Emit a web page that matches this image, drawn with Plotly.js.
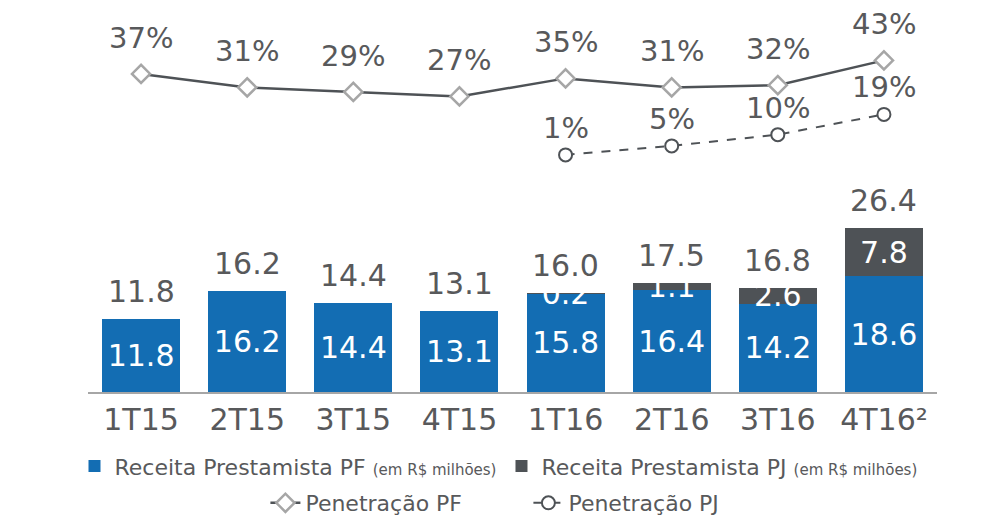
<!DOCTYPE html>
<html>
<head>
<meta charset="utf-8">
<script src="https://cdn.plot.ly/plotly-3.0.1.min.js"></script>
<style>
  body { margin: 0; background: #ffffff; }
  #chart { width: 997px; height: 518px; }
</style>
</head>
<body>
<div id="chart"></div>
<script>
var quarters = ['1T15', '2T15', '3T15', '4T15', '1T16', '2T16', '3T16', '4T16²'];
var receitaPF = [11.8, 16.2, 14.4, 13.1, 15.8, 16.4, 14.2, 18.6];
var receitaPJ = [null, null, null, null, 0.2, 1.1, 2.6, 7.8];
var receitaTotal = [11.8, 16.2, 14.4, 13.1, 16.0, 17.5, 16.8, 26.4];
var penetracaoPF = [0.37, 0.31, 0.29, 0.27, 0.35, 0.31, 0.32, 0.43];
var penetracaoPJ = [null, null, null, null, 0.01, 0.05, 0.10, 0.19];

var grey = '#58595b';
var blue = '#136db3';
var dark = '#4e5256';

var trace_pf = {
  x: quarters,
  y: receitaPF,
  name: 'Receita Prestamista PF <span style="font-size:15px">(em R$ milhões)</span>',
  type: 'bar',
  marker: {color: blue},
  texttemplate: '%{y:.1f}',
  textposition: 'inside',
  insidetextanchor: 'middle',
  constraintext: 'none',
  textfont: {color: '#ffffff', size: 30},
  legend: 'legend'
};

var trace_pj = {
  x: quarters,
  y: receitaPJ,
  name: 'Receita Prestamista PJ <span style="font-size:15px">(em R$ milhões)</span>',
  type: 'bar',
  marker: {color: dark},
  texttemplate: '%{y:.1f}',
  textposition: 'inside',
  insidetextanchor: 'middle',
  constraintext: 'none',
  textfont: {color: '#ffffff', size: 30},
  legend: 'legend'
};

var trace_pen_pf = {
  x: quarters,
  y: penetracaoPF,
  name: 'Penetração PF',
  type: 'scatter',
  mode: 'lines+markers',
  yaxis: 'y2',
  line: {color: dark, width: 2.5},
  marker: {symbol: 'diamond', size: 14, color: '#ffffff', line: {color: '#a6a6a6', width: 2.5}},
  legend: 'legend2'
};

var trace_pen_pj = {
  x: quarters,
  y: penetracaoPJ,
  name: 'Penetração PJ',
  type: 'scatter',
  mode: 'lines+markers',
  yaxis: 'y2',
  line: {color: dark, width: 2, dash: 'dash'},
  marker: {symbol: 'circle', size: 13, color: '#ffffff', line: {color: dark, width: 2}},
  legend: 'legend2'
};

var annotations = [];
quarters.forEach(function(q, i) {
  annotations.push({
    x: q, y: receitaTotal[i], xref: 'x', yref: 'y',
    text: receitaTotal[i].toFixed(1), showarrow: false,
    yanchor: 'bottom', yshift: 8,
    font: {size: 30, color: grey}
  });
  annotations.push({
    x: q, y: penetracaoPF[i], xref: 'x', yref: 'y2',
    text: Math.round(penetracaoPF[i] * 100) + '%', showarrow: false,
    yanchor: 'bottom', yshift: 17,
    font: {size: 29, color: grey}
  });
  if (penetracaoPJ[i] !== null) {
    annotations.push({
      x: q, y: penetracaoPJ[i], xref: 'x', yref: 'y2',
      text: Math.round(penetracaoPJ[i] * 100) + '%', showarrow: false,
      yanchor: 'bottom', yshift: 8,
      font: {size: 29, color: grey}
    });
  }
});

var layout = {
  width: 997,
  height: 518,
  barmode: 'stack',
  bargap: 0.265,
  paper_bgcolor: '#ffffff',
  plot_bgcolor: '#ffffff',
  font: {family: 'DejaVu Sans, Verdana, sans-serif', color: grey, size: 22},
  margin: {l: 88, r: 60, t: 10, b: 126},
  xaxis: {
    showline: true,
    linecolor: '#a6a6a6',
    linewidth: 2,
    ticks: '',
    tickfont: {size: 30, color: grey},
    fixedrange: true
  },
  yaxis: {
    range: [0, 61.5],
    visible: false,
    showgrid: false,
    fixedrange: true
  },
  yaxis2: {
    range: [-1.044, 0.654],
    overlaying: 'y',
    visible: false,
    showgrid: false,
    fixedrange: true
  },
  legend: {
    orientation: 'h',
    xref: 'container', yref: 'container',
    x: 0.5, xanchor: 'center',
    y: 0.100, yanchor: 'middle',
    font: {size: 22, color: grey},
    traceorder: 'normal'
  },
  legend2: {
    orientation: 'h',
    xref: 'container', yref: 'container',
    x: 0.53, xanchor: 'center',
    y: 0.029, yanchor: 'middle',
    font: {size: 22, color: grey},
    entrywidth: 218,
    traceorder: 'normal'
  },
  annotations: annotations,
  showlegend: true
};

Plotly.newPlot('chart', [trace_pf, trace_pj, trace_pen_pf, trace_pen_pj], layout, {displayModeBar: false, staticPlot: true});
</script>
</body>
</html>
